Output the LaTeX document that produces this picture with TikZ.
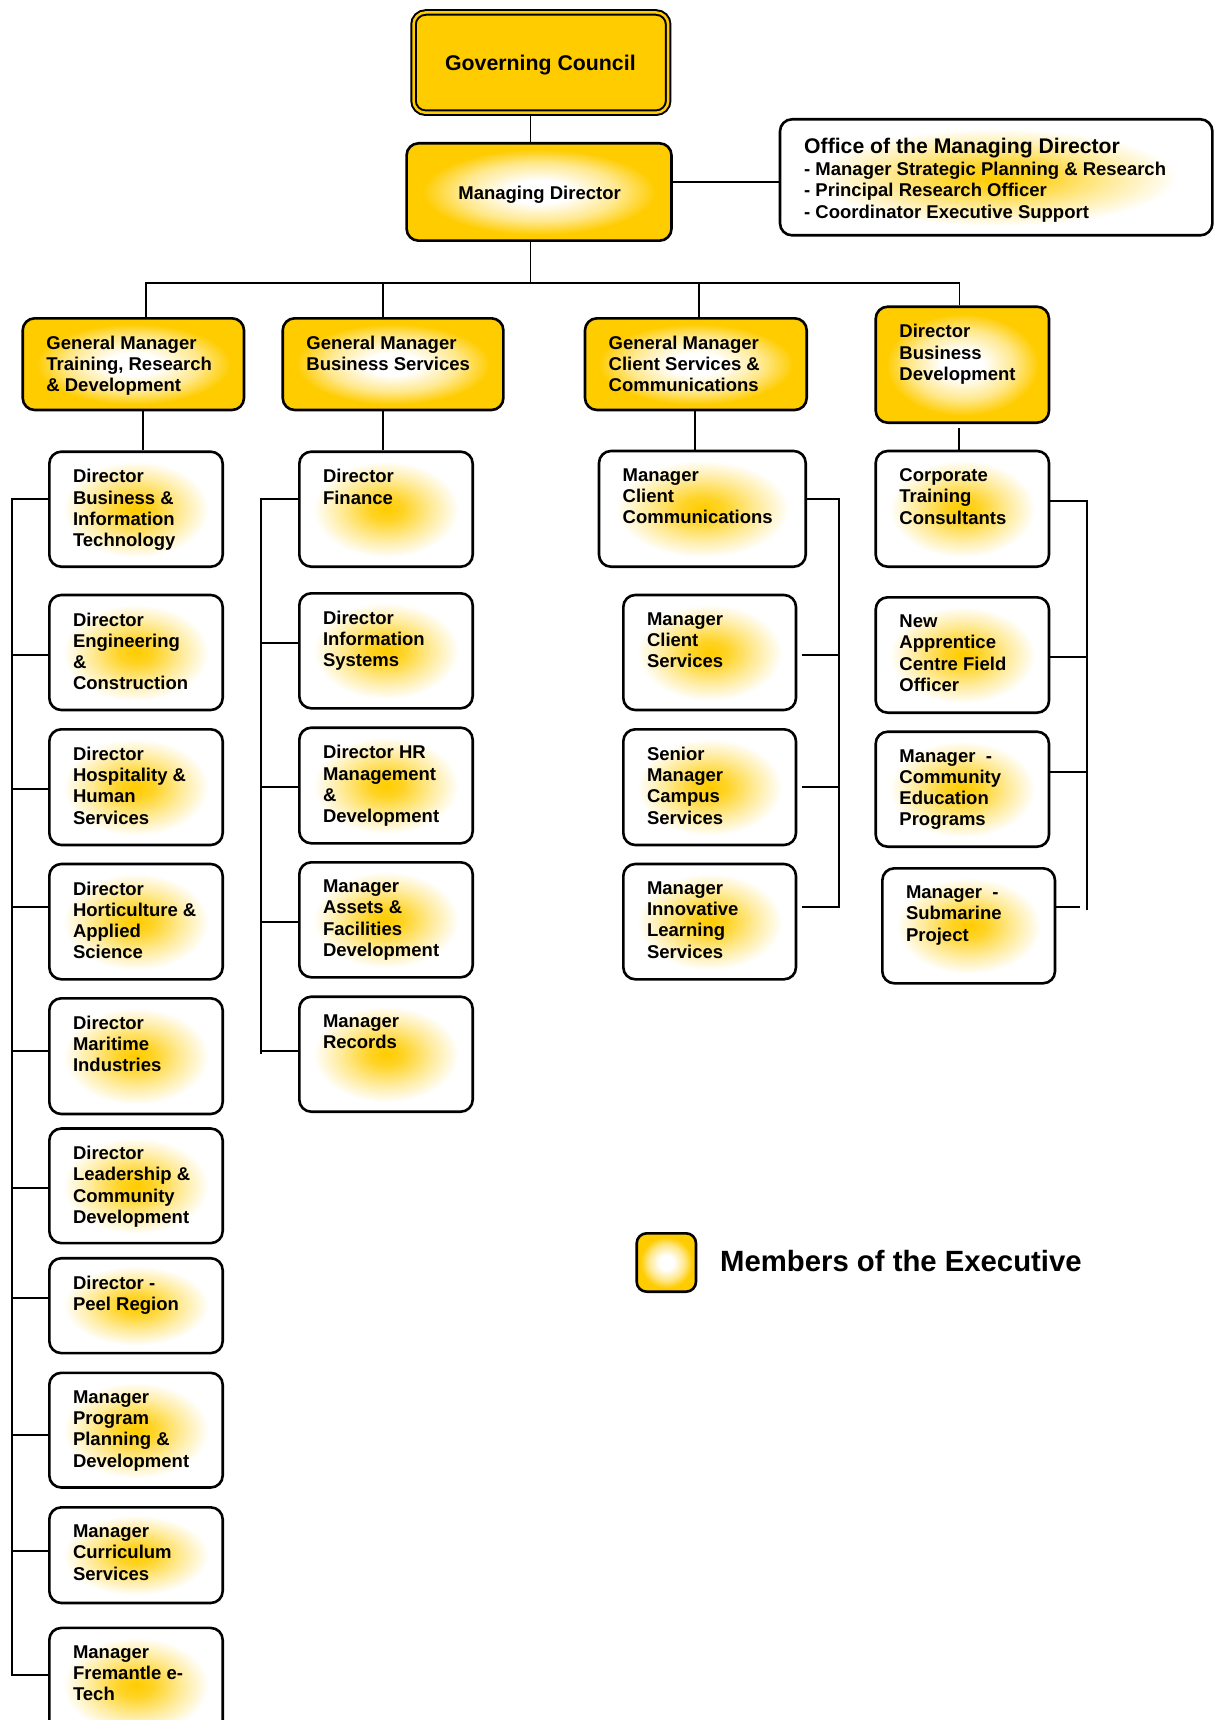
\documentclass[tikz,border=0pt]{standalone}
\usepackage{fontspec}
\setmainfont{Liberation Sans}
\usetikzlibrary{fit}
\definecolor{yel}{RGB}{255,204,0}
\pgfdeclareradialshading{glowW}{\pgfpoint{0bp}{0bp}}{color(0bp)=(yel); color(5bp)=(yel!85); color(13bp)=(yel!40); color(21bp)=(white); color(50bp)=(white)}
\pgfdeclareradialshading{glowY}{\pgfpoint{0bp}{0bp}}{color(0bp)=(white); color(6bp)=(white); color(15bp)=(yel!45); color(22bp)=(yel); color(50bp)=(yel)}
\tikzset{
  wbox/.style={draw=black, line width=2.6pt, rounded corners=12pt, shade, shading=glowW, inner sep=0pt},
  ybox/.style={draw=black, line width=2.6pt, rounded corners=12pt, shade, shading=glowY, inner sep=0pt},
  gcbox/.style={draw=black, line width=2pt, double=yel, double distance=2.5pt, rounded corners=12pt, fill=yel, inner sep=0pt},
  lbl/.style={anchor=north west, inner sep=0pt, align=left, font=\fontsize{18.5}{21.3}\selectfont\bfseries},
  otitle/.style={anchor=base west, inner sep=0pt, font=\fontsize{21.2}{25}\selectfont\bfseries},
  oline/.style={anchor=base west, inner sep=0pt, font=\fontsize{18.5}{21.3}\selectfont\bfseries},
  conn/.style={draw=black, line width=1.8pt},
}
\newcommand{\obx}[7]{%
  \node[#1, fit={(#3,#4) (#5,#6)}] (#2) {};
  \node[lbl] (#2t) at ([xshift=24.8pt,yshift=-18.7pt]#2.north west) {#7};
}
\begin{document}
\begin{tikzpicture}[x=1pt,y=-1pt]
\useasboundingbox (0,0) rectangle (1214,1720);
\clip (0,0) rectangle (1214,1720);

% ---------- top ----------
\node[gcbox, fit={(413.5,12.5) (668.2,112.7)}] (GC) {};
\node[font=\fontsize{21.3}{25}\selectfont\bfseries, anchor=base, inner sep=0pt] (GCt) at (540.4,71) {Governing Council};

\node[ybox, fit={(406.6,143.3) (671.5,240.7)}] (MD) {};
\node[font=\fontsize{18.5}{21.3}\selectfont\bfseries, anchor=base, inner sep=0pt] (MDt) at (539.6,199.5) {Managing Director};

\node[wbox, fit={(780,119.3) (1212.4,235.3)}] (OF) {};
\node[otitle] (OF1) at (804,153.3) {Office of the Managing Director};
\node[oline] (OF2) at (804,176) {- Manager Strategic Planning \& Research};
\node[oline] (OF3) at (804,196.7) {- Principal Research Officer};
\node[oline] (OF4) at (804,218.3) {- Coordinator Executive Support};

% ---------- general managers ----------
\obx{ybox}{g1}{22.7}{318.3}{244}{410}{General Manager\\Training, Research\\\& Development}
\obx{ybox}{g2}{282.7}{318.3}{503.4}{410}{General Manager\\Business Services}
\obx{ybox}{g3}{585}{318.3}{806.7}{410}{General Manager\\Client Services \&\\Communications}
\obx{ybox}{g4}{875.7}{306.7}{1049}{422.7}{Director\\Business\\Development}

% ---------- column 1 ----------
\obx{wbox}{c1a}{49.3}{451.7}{222.7}{566.7}{Director\\Business \&\\Information\\Technology}
\obx{wbox}{c1b}{49.3}{595}{222.7}{710}{Director\\Engineering\\\&\\Construction}
\obx{wbox}{c1c}{49.3}{729.3}{222.7}{845}{Director\\Hospitality \&\\Human\\Services}
\obx{wbox}{c1d}{49.3}{864}{222.7}{979.3}{Director\\Horticulture \&\\Applied\\Science}
\obx{wbox}{c1e}{49.3}{998.3}{222.7}{1114}{Director\\Maritime\\Industries}
\obx{wbox}{c1f}{49.3}{1128.5}{222.7}{1243.1}{Director\\Leadership \&\\Community\\Development}
\obx{wbox}{c1g}{49.3}{1258.2}{222.7}{1353.1}{Director -\\Peel Region}
\obx{wbox}{c1h}{49.3}{1372.8}{222.7}{1487.5}{Manager\\Program\\Planning \&\\Development}
\obx{wbox}{c1i}{49.3}{1507.3}{222.7}{1603}{Manager\\Curriculum\\Services}
\obx{wbox}{c1j}{49.3}{1627.9}{222.7}{1743}{Manager\\Fremantle e-\\Tech}

% ---------- column 2 ----------
\obx{wbox}{c2a}{299.3}{451.7}{472.7}{566.7}{Director\\Finance}
\obx{wbox}{c2b}{299.3}{593.3}{472.7}{708.3}{Director\\Information\\Systems}
\obx{wbox}{c2c}{299.3}{727.7}{472.7}{843.3}{Director HR\\Management\\\&\\Development}
\obx{wbox}{c2d}{299.3}{862.3}{472.7}{977.3}{Manager\\Assets \&\\Facilities\\Development}
\obx{wbox}{c2e}{299.3}{996.7}{472.7}{1111.7}{Manager\\Records}

% ---------- column 3 ----------
\obx{wbox}{c3a}{599}{451}{805.7}{566.7}{Manager\\Client\\Communications}
\obx{wbox}{c3b}{623.3}{595}{796}{710}{Manager\\Client\\Services}
\obx{wbox}{c3c}{623.3}{729.3}{796}{845}{Senior\\Manager\\Campus\\Services}
\obx{wbox}{c3d}{623.3}{864}{796}{979.3}{Manager\\Innovative\\Learning\\Services}

% ---------- column 4 ----------
\obx{wbox}{c4a}{875.7}{451}{1049}{566.7}{Corporate\\Training\\Consultants}
\obx{wbox}{c4b}{875.7}{597.3}{1049}{712.7}{New\\Apprentice\\Centre Field\\Officer}
\obx{wbox}{c4c}{875.7}{731.7}{1049}{846.7}{Manager~~-\\Community\\Education\\Programs}
\obx{wbox}{c4d}{882.3}{868.3}{1055}{983.3}{Manager~~-\\Submarine\\Project}

% ---------- legend ----------
\node[ybox, rounded corners=10pt, fit={(636.7,1233.3) (696,1291.7)}] (LG) {};
\node[font=\fontsize{29.3}{34}\selectfont\bfseries, anchor=base west, inner sep=0pt] (LGt) at (720,1271.7) {Members of the Executive};

% ---------- connectors: top ----------
\coordinate (sp) at (530.5,283);
\coordinate (om) at (700,181.7);
\draw[conn] (sp |- GC.south) -- (sp |- MD.north);
\draw[conn] (sp |- MD.south) -- (sp);
\draw[conn] (MD.east |- om) -- (OF.west |- om);
\coordinate (d1) at (146,283);
\coordinate (d2) at (383.3,283);
\coordinate (d3) at (699,283);
\coordinate (d4) at (959.5,283);
\draw[conn] (d1 |- g1.north) -- (d1) -- (d4) -- (d4 |- g4.north);
\draw[conn] (d2) -- (d2 |- g2.north);
\draw[conn] (d3) -- (d3 |- g3.north);

\coordinate (e1) at (143.3,0);
\coordinate (e2) at (383.3,0);
\coordinate (e3) at (695.3,0);
\coordinate (e4) at (959.3,0);
\draw[conn] (e1 |- g1.south) -- (e1 |- c1a.north);
\draw[conn] (e2 |- g2.south) -- (e2 |- c2a.north);
\draw[conn] (e3 |- g3.south) -- (e3 |- c3a.north);
\draw[conn, shorten <=4pt] (e4 |- g4.south) -- (e4 |- c4a.north);

% ---------- connectors: column 1 ----------
\coordinate (k1a) at (11.7,499.3);
\coordinate (k1b) at (11.7,655);
\coordinate (k1c) at (11.7,789.3);
\coordinate (k1d) at (11.7,907.3);
\coordinate (k1e) at (11.7,1051);
\coordinate (k1f) at (11.7,1187.8);
\coordinate (k1g) at (11.7,1297.7);
\coordinate (k1h) at (11.7,1435.3);
\coordinate (k1i) at (11.7,1550.8);
\coordinate (k1j) at (11.7,1675.3);
\draw[conn] (c1a.west |- k1a) -- (k1a) -- (k1j) -- (c1j.west |- k1j);
\foreach \n in {b,c,d,e,f,g,h,i} \draw[conn] (k1\n) -- (c1\n.west |- k1\n);

% ---------- connectors: column 2 ----------
\coordinate (k2a) at (261,499.3);
\coordinate (k2b) at (261,643.3);
\coordinate (k2c) at (261,787.3);
\coordinate (k2d) at (261,921.7);
\coordinate (k2e) at (261,1051);
\coordinate (k2z) at (261,1054);
\draw[conn] (c2a.west |- k2a) -- (k2a) -- (k2z);
\foreach \n in {b,c,d,e} \draw[conn] (k2\n) -- (c2\n.west |- k2\n);

% ---------- connectors: column 3 ----------
\coordinate (k3a) at (839.3,499.3);
\coordinate (k3b) at (839.3,655);
\coordinate (k3c) at (839.3,787.3);
\coordinate (k3d) at (839.3,907.3);
\draw[conn] (c3a.east |- k3a) -- (k3a) -- (k3d) -- ([xshift=4.7pt]c3d.east |- k3d);
\foreach \n in {b,c} \draw[conn] (k3\n) -- ([xshift=4.7pt]c3\n.east |- k3\n);

% ---------- connectors: column 4 ----------
\coordinate (k4a) at (1086.7,501);
\coordinate (k4b) at (1086.7,657.3);
\coordinate (k4c) at (1086.7,771.7);
\coordinate (k4z) at (1086.7,910);
\coordinate (k4d) at (1080,907.3);
\draw[conn] (c4a.east |- k4a) -- (k4a) -- (k4z);
\foreach \n in {b,c} \draw[conn] (k4\n) -- (c4\n.east |- k4\n);
\draw[conn] (c4d.east |- k4d) -- (k4d);
\end{tikzpicture}
\end{document}
